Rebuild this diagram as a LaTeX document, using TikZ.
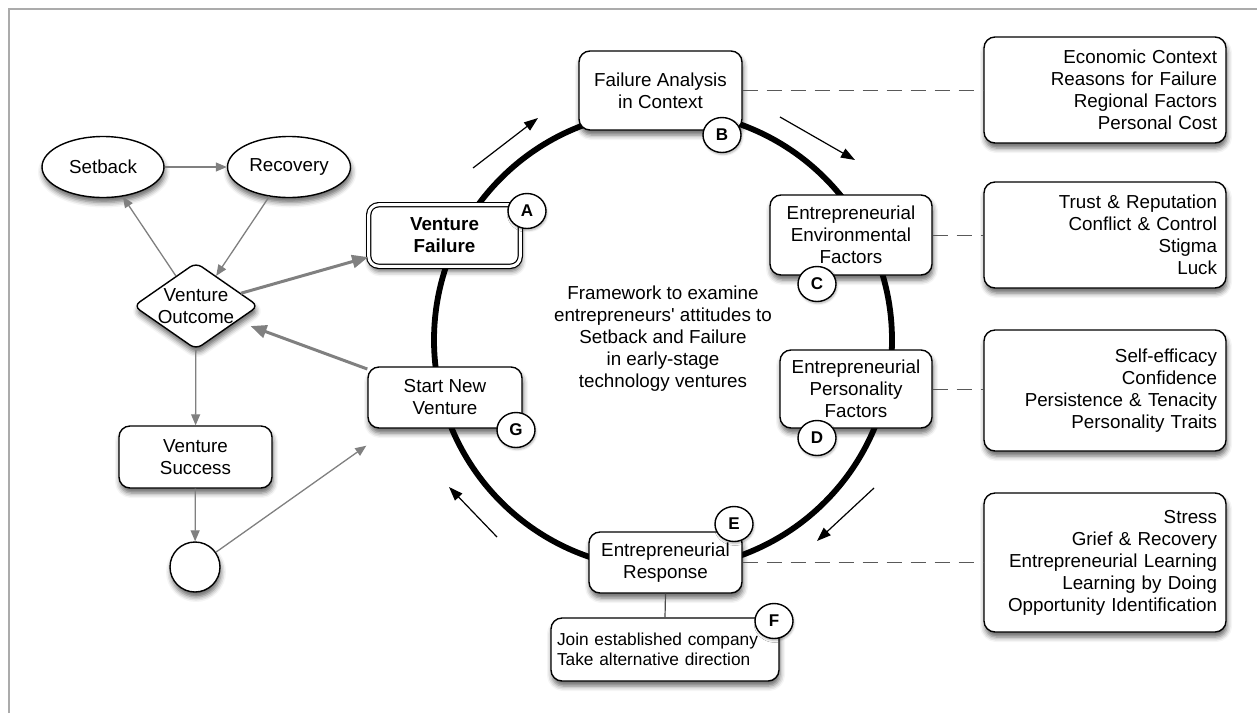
\documentclass[tikz,border=0pt]{standalone}
\usepackage{fontspec}
\setmainfont{Liberation Sans}[Ligatures=TeXOff]
\usetikzlibrary{shapes.geometric,arrows.meta,shadows.blur,calc}

\begin{document}
\begin{tikzpicture}[x=1pt,y=-1pt,
  every node/.style={font=\fontsize{18.8}{22}\selectfont},
  sh/.style={blur shadow={shadow xshift=1pt,shadow yshift=-5pt,shadow blur radius=5pt,shadow opacity=60}},
  box/.style={draw=black,line width=1.4pt,fill=white,rounded corners=11pt,align=center,inner sep=0pt,sh},
  infobox/.style={box,align=right,inner xsep=9pt,text width=224pt,minimum width=242pt},
  oval/.style={draw=black,line width=1.4pt,fill=white,ellipse,inner sep=0pt,minimum width=122pt,minimum height=61pt,sh},
  letter/.style={draw=black,line width=1.4pt,fill=white,ellipse,inner sep=0pt,minimum width=38pt,minimum height=35pt,
    font=\fontsize{17}{17}\selectfont\bfseries,blur shadow={shadow xshift=1pt,shadow yshift=-2pt,shadow blur radius=2pt,shadow opacity=30}},
  garrow/.style={draw=gray,line width=1.3pt,-{Triangle[length=11pt,width=9pt]},fill=gray},
  garrowthick/.style={draw=gray,line width=3pt,-{Triangle[length=16pt,width=13pt]},fill=gray},
  flow/.style={draw=black,line width=1.2pt,-{Triangle[length=14pt,width=10pt]}},
  link/.style={draw=black!65,line width=1pt,dash pattern=on 15pt off 9pt},
]
\useasboundingbox (0,0) rectangle (1257,713);

% page frame
\draw[black!33,line width=2pt] (9,713) -- (9,9) -- (1257,9);

% the cycle ring
\draw[black,line width=5.8pt] (663,340) circle[radius=229];

% centre caption
\node[align=center] (caption) at (663,339)
  {Framework to examine\\entrepreneurs' attitudes to\\Setback and Failure\\in early-stage\\technology ventures};

% stages on the ring
\node[box,minimum width=163pt,minimum height=79pt] (fa) at (660.5,90.5) {Failure Analysis\\in Context};
\node[box,minimum width=162pt,minimum height=80pt] (env) at (851,235) {Entrepreneurial\\Environmental\\Factors};
\node[box,minimum width=152pt,minimum height=78pt] (pers) at (856,389) {Entrepreneurial\\Personality\\Factors};
\node[box,minimum width=153pt,minimum height=61pt] (resp) at (665.5,562.5) {Entrepreneurial\\Response};
\node[box,minimum width=154pt,minimum height=61pt] (snv) at (445,397.5) {Start New\\Venture};
\node[box,double=white,double distance=3pt,line width=1.2pt,rounded corners=10pt,
      minimum width=151.6pt,minimum height=61.6pt,font=\fontsize{18.8}{22}\selectfont\bfseries] (vf) at (444.5,235.5) {Venture\\Failure};
\node[box,align=left,inner xsep=6pt,text width=216pt,minimum height=63pt,
      font=\fontsize{17.3}{19.5}\selectfont] (alt) at (665,649.5) {Join established company\\Take alternative direction};

% detail boxes
\node[infobox,minimum height=106pt] (econ) at (1105,90)
  {Economic Context\\Reasons for Failure\\Regional Factors\\Personal Cost};
\node[infobox,minimum height=106pt] (trust) at (1105,235)
  {Trust \& Reputation\\Conflict \& Control\\Stigma\\Luck};
\node[infobox,minimum height=121pt] (self) at (1105,390.5)
  {Self-efficacy\\Confidence\\Persistence \& Tenacity\\Personality Traits};
\node[infobox,minimum height=139pt] (stress) at (1105,562.5)
  {Stress\\Grief \& Recovery\\Entrepreneurial Learning\\Learning by Doing\\Opportunity Identification};

% dashed links to the detail boxes
\draw[link] (fa.east |- econ.west) -- (econ.west);
\draw[link] (env.east) -- (trust.west |- env.east);
\draw[link] (pers.east) -- (self.west |- pers.east);
\draw[link] (resp.east) -- (stress.west |- resp.east);

% response to alternatives
\draw[black!70,line width=1.2pt] (resp.south) -- (alt.north);

% stage letters
\node[letter] (la) at (527,211) {A};
\node[letter] (lb) at (722,135) {B};
\node[letter] (lc) at (817,284) {C};
\node[letter] (ld) at (817,438) {D};
\node[letter] (le) at (734,524) {E};
\node[letter] (lf) at (774,621) {F};
\node[letter] (lg) at (516,430) {G};

% direction of the cycle
\coordinate (f1a) at (473,168); \coordinate (f1b) at (538,118);
\coordinate (f2a) at (780,117); \coordinate (f2b) at (855,160);
\coordinate (f3a) at (874,488); \coordinate (f3b) at (817,541);
\coordinate (f4a) at (497,537); \coordinate (f4b) at (449,487);
\draw[flow] (f1a) -- (f1b);
\draw[flow] (f2a) -- (f2b);
\draw[flow] (f3a) -- (f3b);
\draw[flow] (f4a) -- (f4b);

% outcome flow on the left
\node[oval] (setback) at (103,167) {Setback};
\node[oval,minimum width=123pt] (recovery) at (289,167) {Recovery};
\node[draw=black,line width=1.4pt,fill=white,diamond,inner sep=0pt,minimum width=125pt,minimum height=87pt,
      rounded corners=7pt,sh] (vo) at (196,306) {};
\node[align=center] (votxt) at (vo.center) {Venture\\Outcome};
\node[box,minimum width=153pt,minimum height=62pt] (vs) at (195.5,457) {Venture\\Success};
\node[draw=black,line width=1.4pt,fill=white,circle,inner sep=0pt,minimum size=50pt,sh] (endc) at (195,567) {};

\draw[garrow] (setback) -- (recovery);
\draw[garrow] (vo) -- (setback);
\draw[garrow] (recovery) -- (vo);
\draw[garrow] (vo) -- (vs);
\draw[garrow] (vs) -- (endc);
\draw[garrow] (endc) -- ($(snv.south west)+(-1,17)$);
\draw[garrowthick] (vo) -- (vf);
\draw[garrowthick,shorten >=14pt] (snv) -- (vo);
\end{tikzpicture}
\end{document}
